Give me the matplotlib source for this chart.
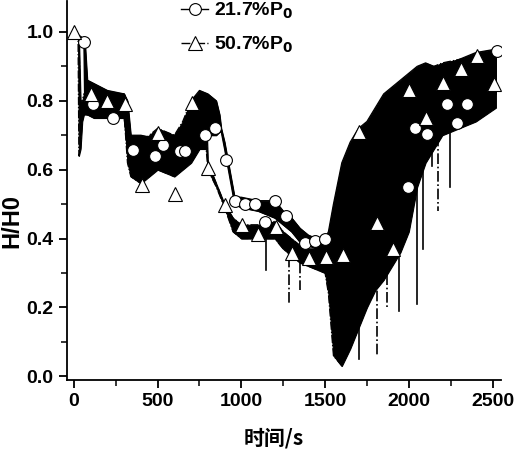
import matplotlib
matplotlib.use("Agg")
import matplotlib.pyplot as plt
from matplotlib.lines import Line2D

plt.rcParams['font.family'] = ['Liberation Sans', 'DejaVu Sans']
plt.rcParams['font.weight'] = 'bold'
plt.rcParams['mathtext.default'] = 'bf'

# ---- series A: 21.7%P0 (solid line, circles) envelope of the noisy trace ----
tA = [0, 60, 65, 80, 120, 200, 300, 320, 340, 400, 500, 600, 650, 700, 750, 800, 850, 870, 880,
      900, 930, 960, 1000, 1100, 1200, 1250, 1300, 1350, 1400, 1450, 1500, 1520, 1550, 1600, 1650,
      1700, 1750, 1800, 1850, 1900, 1950, 2000, 2050, 2100, 2150, 2200, 2300, 2400, 2520]
hiA = [1.0, 0.98, 0.98, 0.86, 0.85, 0.83, 0.82, 0.80, 0.70, 0.70, 0.69, 0.70, 0.72, 0.80, 0.83, 0.82,
       0.80, 0.76, 0.72, 0.68, 0.60, 0.52, 0.52, 0.51, 0.51, 0.48, 0.46, 0.43, 0.41, 0.40, 0.40, 0.42,
       0.50, 0.62, 0.68, 0.72, 0.74, 0.78, 0.82, 0.84, 0.86, 0.88, 0.90, 0.91, 0.90, 0.90, 0.92, 0.94, 0.95]
loA = [1.0, 0.97, 0.78, 0.76, 0.75, 0.75, 0.75, 0.66, 0.62, 0.60, 0.62, 0.62, 0.64, 0.68, 0.70, 0.70,
       0.70, 0.71, 0.71, 0.66, 0.58, 0.50, 0.49, 0.48, 0.46, 0.44, 0.42, 0.39, 0.38, 0.37, 0.36, 0.32,
       0.14, 0.10, 0.16, 0.24, 0.30, 0.34, 0.38, 0.44, 0.52, 0.60, 0.66, 0.68, 0.70, 0.72, 0.74, 0.78, 0.82]

# ---- series B: 50.7%P0 (dash-dot line, triangles) ----
tB = [0, 25, 30, 40, 50, 60, 100, 200, 300, 320, 340, 400, 500, 600, 650, 700, 750, 790, 800, 850,
      900, 950, 1000, 1100, 1200, 1250, 1300, 1350, 1400, 1450, 1500, 1520, 1550, 1600, 1650, 1700,
      1750, 1800, 1850, 1900, 1950, 2000, 2050, 2100, 2150, 2200, 2300, 2400, 2520]
hiB = [1.0, 0.99, 0.99, 0.80, 0.80, 0.82, 0.84, 0.82, 0.82, 0.78, 0.68, 0.68, 0.72, 0.70, 0.74, 0.80,
       0.82, 0.78, 0.62, 0.56, 0.50, 0.46, 0.44, 0.44, 0.45, 0.42, 0.40, 0.38, 0.37, 0.37, 0.38, 0.40,
       0.48, 0.60, 0.66, 0.70, 0.72, 0.76, 0.80, 0.82, 0.84, 0.86, 0.88, 0.88, 0.90, 0.91, 0.92, 0.93, 0.94]
loB = [1.0, 0.98, 0.64, 0.66, 0.74, 0.76, 0.76, 0.76, 0.76, 0.62, 0.58, 0.56, 0.60, 0.58, 0.60, 0.62,
       0.66, 0.66, 0.60, 0.55, 0.49, 0.42, 0.40, 0.40, 0.40, 0.37, 0.35, 0.33, 0.32, 0.31, 0.30, 0.24,
       0.06, 0.03, 0.08, 0.14, 0.20, 0.25, 0.28, 0.32, 0.36, 0.42, 0.55, 0.62, 0.66, 0.70, 0.72, 0.74, 0.78]

# ---- isolated downward spikes ----
spk_t = [1150, 1285, 1350, 1535, 1700, 1810, 1870, 1940, 2048, 2085, 2136, 2173, 2245]
spk_hi = [0.45, 0.40, 0.38, 0.35, 0.20, 0.30, 0.40, 0.45, 0.70, 0.70, 0.75, 0.75, 0.78]
spk_lo = [0.31, 0.21, 0.25, 0.19, 0.05, 0.06, 0.20, 0.19, 0.21, 0.37, 0.61, 0.48, 0.55]
spk_ls = ['-', '-.', '-.', '-.', '-', '-.', '-.', '-', '-', '-', '-', '-.', '-']

# ---- markers ----
circ_t = [60, 113, 233, 352, 484, 531, 633, 663, 782, 842, 907, 961, 1021, 1081, 1140, 1200, 1266,
          1379, 1439, 1499, 1994, 2036, 2107, 2227, 2287, 2346, 2525]
circ_v = [0.97, 0.79, 0.75, 0.656, 0.64, 0.673, 0.653, 0.653, 0.70, 0.72, 0.627, 0.51, 0.50, 0.50,
          0.448, 0.51, 0.465, 0.387, 0.393, 0.40, 0.55, 0.72, 0.705, 0.79, 0.735, 0.79, 0.945]
tri_t = [0, 100, 197, 304, 406, 502, 603, 704, 800, 904, 1003, 1098, 1206, 1304, 1403, 1504, 1606,
         1701, 1809, 1904, 2000, 2101, 2203, 2310, 2406, 2507]
tri_v = [1.0, 0.82, 0.80, 0.79, 0.555, 0.706, 0.53, 0.795, 0.605, 0.497, 0.44, 0.413, 0.433, 0.358,
         0.343, 0.347, 0.352, 0.708, 0.445, 0.37, 0.83, 0.75, 0.852, 0.893, 0.93, 0.85]

labels = ['21.7%P$_0$', '50.7%P$_0$']
xticks = [0, 500, 1000, 1500, 2000, 2500]
yticks = [0.0, 0.2, 0.4, 0.6, 0.8, 1.0]

fig = plt.figure(figsize=(5.18, 4.5), dpi=100)
ax = fig.add_axes([0.129, 0.156, 0.838, 0.842])

# series A
ax.fill_between(tA, loA, hiA, color='black', lw=0.8, zorder=2)
ax.plot(tA, hiA, color='black', lw=0.9, zorder=2)
ax.plot(tA, loA, color='black', lw=0.9, zorder=2)

# series B
ax.fill_between(tB, loB, hiB, color='black', lw=0.8, zorder=4)
ax.plot(tB, hiB, color='black', lw=0.9, ls='-.', zorder=4)
ax.plot(tB, loB, color='black', lw=0.9, ls='-.', zorder=4)
for t, h, l, s in zip(spk_t, spk_hi, spk_lo, spk_ls):
    ax.plot([t, t], [h, l], color='black', lw=1.2, ls=s, zorder=4)

ax.plot(circ_t, circ_v, ls='none', marker='o', ms=8.5, mfc='white', mec='black', mew=0.8, zorder=6)
ax.plot(tri_t, tri_v, ls='none', marker='^', ms=10, mfc='white', mec='black', mew=0.8, zorder=6)

ax.set_xlim(-42, 2550)
ax.set_ylim(-0.01, 1.09)
ax.set_xticks(xticks)
ax.set_xticks([250, 750, 1250, 1750, 2250], minor=True)
ax.set_yticks(yticks)
ax.set_yticks([0.1, 0.3, 0.5, 0.7, 0.9], minor=True)
ax.set_xticklabels([str(v) for v in xticks])
ax.set_yticklabels(['%.1f' % v for v in yticks])
for s in ['top', 'right']:
    ax.spines[s].set_visible(False)
for s in ['left', 'bottom']:
    ax.spines[s].set_linewidth(1.3)
ax.tick_params(which='major', direction='out', length=6, width=1.3, labelsize=14)
ax.tick_params(which='minor', direction='out', length=4, width=1.1)
for lab in ax.get_xticklabels() + ax.get_yticklabels():
    lab.set_fontweight('bold')

ax.set_ylabel('H/H0', fontsize=17, fontweight='bold')
ax.yaxis.set_label_coords(-0.1, 0.42)
ax.set_xlabel('时间/s', fontsize=15, fontweight='bold',
              family=['Noto Sans CJK SC', 'Liberation Sans'])
ax.xaxis.set_label_coords(0.477, -0.125)

handles = [Line2D([], [], color='black', lw=1, ls='-', marker='o', ms=8.5, mfc='white', mec='black', mew=0.8),
           Line2D([], [], color='black', lw=1, ls='-.', marker='^', ms=10, mfc='white', mec='black', mew=0.8)]
ax.legend(handles, labels, loc='upper left', bbox_to_anchor=(0.245, 1.02), frameon=False,
          prop={'size': 14, 'weight': 'bold'}, handlelength=1.4, handletextpad=0.3,
          labelspacing=0.7, borderaxespad=0)

fig.savefig('out.png', dpi=100)
